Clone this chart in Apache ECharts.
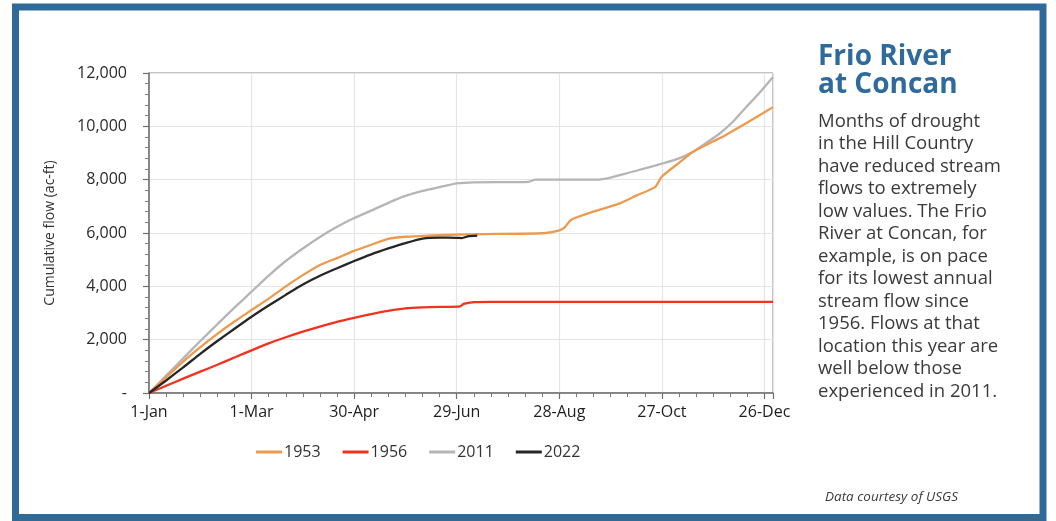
<!DOCTYPE html>
<html>
<head>
<meta charset="utf-8">
<script src="https://cdn.jsdelivr.net/npm/echarts@6/dist/echarts.min.js"></script>
<style>
html,body{margin:0;padding:0;background:#fff;}
#c{width:1056px;height:521px;}
</style>
</head>
<body>
<div id="c"></div>
<script>
// ---- data (day of year from 1-Jan, cumulative flow ac-ft) ----
var xTickLabels = ['1-Jan', '1-Mar', '30-Apr', '29-Jun', '28-Aug', '27-Oct', '26-Dec'];
var seriesNames = ['1953', '1956', '2011', '2022'];

var days1953 = [0,10,20,30,40,50,60,70,80,90,100,110,120,130,140,150,160,180,195,230,240,243,247,260,275,285,296,300,310,318,334,349,365];
var flow1953 = [0,590,1180,1720,2220,2680,3110,3540,4000,4420,4800,5060,5330,5560,5780,5860,5890,5940,5960,5990,6100,6200,6500,6800,7100,7400,7720,8120,8630,9040,9560,10110,10720];

var days1956 = [0,10,20,30,40,50,60,70,80,90,100,110,120,130,140,150,160,170,182,184,190,200,365];
var flow1956 = [0,270,540,800,1060,1330,1600,1860,2090,2300,2490,2670,2820,2960,3080,3170,3210,3230,3250,3340,3410,3420,3420];

var days2011 = [0,10,20,30,40,50,60,70,80,90,100,110,120,130,140,150,160,170,180,190,222,226,262,270,280,290,300,310,318,326,334,342,349,357,365];
var flow2011 = [0,650,1300,1950,2580,3200,3800,4400,4950,5420,5850,6230,6560,6840,7130,7390,7580,7720,7860,7900,7920,8000,8000,8080,8250,8420,8600,8800,9040,9380,9740,10200,10700,11250,11850];

var days2022 = [0,10,20,30,40,50,60,70,80,90,100,110,120,130,140,150,160,170,180,183,187,192];
var flow2022 = [0,470,960,1470,1950,2410,2860,3280,3680,4070,4400,4680,4950,5200,5420,5620,5790,5830,5820,5810,5880,5900];

var seriesColors = ['#ee9a4e', '#f2311f', '#b5b5b8', '#262626'];

function pairs(d, v) { return d.map(function (x, i) { return [x, v[i]]; }); }

var chart = echarts.init(document.getElementById('c'), null, {renderer: 'canvas'});
var FONT = '"Open Sans", "Noto Sans", sans-serif';

function mkSeries(name, d, v, color, z) {
  return {
    name: name, type: 'line', data: pairs(d, v), showSymbol: false, symbol: 'none',
    lineStyle: {color: color, width: 2.3}, itemStyle: {color: color}, z: z, smooth: 0.2
  };
}

chart.setOption({
  animation: false,
  backgroundColor: '#fff',
  textStyle: {fontFamily: FONT},
  grid: {left: 149, right: 283, top: 73, bottom: 128, show: true, borderColor: '#8c8c8c', borderWidth: 1},
  legend: {
    data: seriesNames,
    left: 251, top: 439,
    icon: 'rect', itemWidth: 26, itemHeight: 3, itemGap: 22,
    textStyle: {fontFamily: FONT, fontSize: 16, color: '#333', padding: [0, 0, 0, -3]}
  },
  xAxis: {
    type: 'value', min: 0, max: 365, interval: 60,
    axisLine: {show: true, lineStyle: {color: '#6e6e6e', width: 1.5}},
    axisTick: {show: true, length: 6, lineStyle: {color: '#6e6e6e', width: 1.2}},
    minorTick: {show: true, splitNumber: 6, length: 4, lineStyle: {color: '#7a7a7a', width: 1}},
    splitLine: {show: true, lineStyle: {color: '#e4e4e4', width: 1.2}},
    axisLabel: {
      margin: 11, fontSize: 16, color: '#1e1e1e', fontFamily: FONT,
      formatter: function (v) { return (v % 60 === 0 && xTickLabels[v / 60]) ? xTickLabels[v / 60] : ''; }
    }
  },
  yAxis: {
    type: 'value', min: 0, max: 12000, interval: 2000,
    name: 'Cumulative flow (ac-ft)', nameLocation: 'middle', nameGap: 92, nameRotate: 90,
    nameTextStyle: {fontSize: 14, color: '#333', fontFamily: FONT},
    axisLine: {show: true, lineStyle: {color: '#6e6e6e', width: 1.5}},
    axisTick: {show: true, length: 6, lineStyle: {color: '#6e6e6e', width: 1.2}},
    minorTick: {show: true, splitNumber: 5, length: 4, lineStyle: {color: '#7a7a7a', width: 1}},
    splitLine: {show: true, lineStyle: {color: '#e4e4e4', width: 1.2}},
    axisLabel: {
      margin: 22, fontSize: 16, color: '#2a2a2a', fontFamily: FONT,
      formatter: function (v) { return v === 0 ? '-' : v.toLocaleString('en-US'); }
    }
  },
  series: [
    mkSeries('2011', days2011, flow2011, seriesColors[2], 2),
    mkSeries('1953', days1953, flow1953, seriesColors[0], 3),
    mkSeries('1956', days1956, flow1956, seriesColors[1], 4),
    mkSeries('2022', days2022, flow2022, seriesColors[3], 5)
  ],
  graphic: [
    {type: 'rect', silent: true, z: 100,
     shape: {x: 15.5, y: 7, width: 1027.5, height: 510.5},
     style: {fill: 'none', stroke: '#2f6a99', lineWidth: 7}},
    {type: 'text', left: 818, top: 43, z: 100,
     style: {text: 'Frio River\nat Concan', fontFamily: FONT, fontSize: 28, fontWeight: 'bold',
             lineHeight: 28, fill: '#2f6a9d'}},
    {type: 'text', left: 818, top: 110, z: 100,
     style: {text: 'Months of drought\nin the Hill Country\nhave reduced stream\nflows to extremely\nlow values. The Frio\nRiver at Concan, for\nexample, is on pace\nfor its lowest annual\nstream flow since\n1956. Flows at that\nlocation this year are\nwell below those\nexperienced in 2011.',
             fontFamily: FONT, fontSize: 18.5, lineHeight: 22.5, fill: '#3a3a3a'}},
    {type: 'text', left: 825, top: 490, z: 100,
     style: {text: 'Data courtesy of USGS', fontFamily: FONT, fontSize: 13.5, fontStyle: 'italic', fill: '#3a3a3a'}}
  ]
});
</script>
</body>
</html>
